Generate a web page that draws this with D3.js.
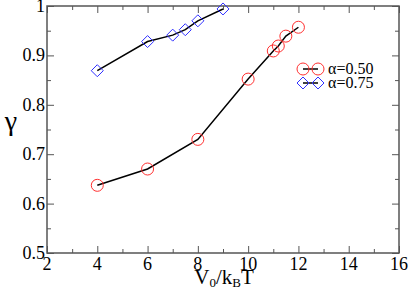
<!DOCTYPE html>
<html><head><meta charset="utf-8">
<script src="https://cdn.jsdelivr.net/npm/d3@7"></script>
<style>body{margin:0;background:#fff}svg{display:block}</style>
</head><body>
<svg id="chart" width="409" height="290" font-family="Liberation Serif">
  <text x="224" y="284" text-anchor="middle" font-family="Liberation Serif" font-size="21">V<tspan font-size="13" dy="3">0</tspan><tspan dy="-3">/k</tspan><tspan font-size="13" dy="3">B</tspan><tspan dy="-3">T</tspan></text>
  <text x="11" y="130" text-anchor="middle" font-family="Liberation Serif" font-size="28">γ</text>
</svg>
<script>
const xA50 = [4, 6, 8, 10, 11, 11.2, 11.5, 12];
const yA50 = [0.637, 0.670, 0.730, 0.852, 0.909, 0.919, 0.939, 0.957];
const xA75 = [4, 6, 7, 7.5, 8, 9];
const yA75 = [0.869, 0.928, 0.941, 0.952, 0.970, 0.994];
const xTicks = [2, 4, 6, 8, 10, 12, 14, 16];
const yTicks = [0.5, 0.6, 0.7, 0.8, 0.9, 1];
const yTickLabels = ["0.5", "0.6", "0.7", "0.8", "0.9", "1"];
const seriesNames = ["α=0.50", "α=0.75"];

const W = 409, H = 290;
const FF = "Liberation Serif";
const m = {l: 47, r: 10, t: 6, b: 37};
const svg = d3.select("#chart");
const x = d3.scaleLinear().domain([2, 16]).range([m.l, W - m.r]);
const y = d3.scaleLinear().domain([0.5, 1]).range([H - m.b, m.t]);
const frameCol = "#555";
const xMinor = d3.range(3, 16, 2);
const yMinor = [0.55, 0.65, 0.75, 0.85, 0.95];

function ticks(gen, scale, vals, len, tr) {
  const g = svg.append("g").attr("transform", tr)
    .call(gen(scale).tickValues(vals).tickSize(len).tickFormat(""));
  g.select(".domain").remove();
  g.selectAll("text").remove();
  g.attr("font-family", null);
  g.selectAll("line").attr("stroke", frameCol).attr("stroke-width", 1);
}
ticks(d3.axisTop, x, xTicks, 7, `translate(0,${H - m.b})`);
ticks(d3.axisTop, x, xMinor, 4, `translate(0,${H - m.b})`);
ticks(d3.axisBottom, x, xTicks, 7, `translate(0,${m.t})`);
ticks(d3.axisBottom, x, xMinor, 4, `translate(0,${m.t})`);
ticks(d3.axisRight, y, yTicks, 7, `translate(${m.l},0)`);
ticks(d3.axisRight, y, yMinor, 4, `translate(${m.l},0)`);
ticks(d3.axisLeft, y, yTicks, 7, `translate(${W - m.r},0)`);
ticks(d3.axisLeft, y, yMinor, 4, `translate(${W - m.r},0)`);

// tick labels
svg.append("g").selectAll("text").data(xTicks).join("text")
  .attr("x", d => x(d)).attr("y", H - m.b + 17).attr("text-anchor", "middle")
  .attr("font-family", FF).attr("font-size", 18).text(d => String(d));
svg.append("g").selectAll("text").data(yTicks).join("text")
  .attr("x", m.l - 2).attr("y", d => y(d) + 6).attr("text-anchor", "end")
  .attr("font-family", FF).attr("font-size", 18).text((d, i) => yTickLabels[i]);

// frame
svg.append("rect").attr("x", m.l).attr("y", m.t).attr("width", W - m.r - m.l).attr("height", H - m.b - m.t)
  .attr("fill", "none").attr("stroke", frameCol).attr("stroke-width", 1.5);

const line = d3.line().x(d => x(d[0])).y(d => y(d[1]));
const s50 = xA50.map((v, i) => [v, yA50[i]]);
const s75 = xA75.map((v, i) => [v, yA75[i]]);
const red = "#ff3030", blue = "#3030ff";
[s50, s75].forEach(s => svg.append("path").datum(s).attr("d", line).attr("fill", "none").attr("stroke", "#000").attr("stroke-width", 1.5));
svg.append("g").selectAll("circle").data(s50).join("circle")
  .attr("cx", d => x(d[0])).attr("cy", d => y(d[1])).attr("r", 6)
  .attr("fill", "none").attr("stroke", red).attr("stroke-width", 1);
const dia = (cx, cy, r) => `M${cx},${cy - r}L${cx + r},${cy}L${cx},${cy + r}L${cx - r},${cy}Z`;
svg.append("g").selectAll("path").data(s75).join("path")
  .attr("d", d => dia(x(d[0]), y(d[1]), 6))
  .attr("fill", "none").attr("stroke", blue).attr("stroke-width", 1);

// legend
const lg = [{y: 69, col: red, type: "c"}, {y: 83, col: blue, type: "d"}];
lg.forEach((l, i) => {
  svg.append("line").attr("x1", 303).attr("x2", 318).attr("y1", l.y).attr("y2", l.y).attr("stroke", "#000").attr("stroke-width", 1.5);
  [303, 318].forEach(cx => {
    if (l.type === "c") svg.append("circle").attr("cx", cx).attr("cy", l.y).attr("r", 6).attr("fill", "none").attr("stroke", l.col);
    else svg.append("path").attr("d", dia(cx, l.y, 6)).attr("fill", "none").attr("stroke", l.col);
  });
  svg.append("text").attr("x", 328).attr("y", l.y + 5).attr("font-family", FF).attr("font-size", 16).text(seriesNames[i]);
});
</script>
</body></html>
